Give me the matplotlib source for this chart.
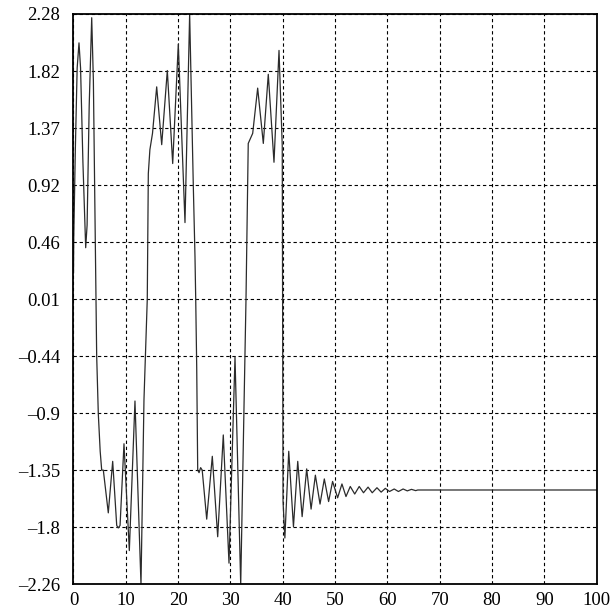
import numpy as np
import matplotlib
matplotlib.use("Agg")
import matplotlib.pyplot as plt

# ==========================================
# DATA
# ==========================================

# time axis samples and signal values, segment by segment
t_start = [0.0, 0.05, 0.35, 0.7, 1.05, 1.35, 1.8, 2.33, 2.6, 3.0, 3.48, 3.8, 4.1, 4.3, 4.43, 4.74, 5.1, 5.39]
y_start = [0.22, 0.5, 1.2, 1.85, 2.05, 1.85, 1.1, 0.42, 0.6, 1.55, 2.25, 1.75, 0.7, 0.01, -0.44, -0.9, -1.2, -1.35]

t_osc1 = [5.7, 6.65, 7.49, 8.26, 8.56, 8.9, 9.65, 10.67, 11.75, 12.9]
y_osc1 = [-1.35, -1.69, -1.28, -1.79, -1.81, -1.79, -1.14, -1.99, -0.80, -2.26]

t_rise1 = [13.47, 14.1, 14.3, 14.6, 15.1]
y_rise1 = [-0.79, 0.01, 1.01, 1.20, 1.33]

t_osc2 = [15.9, 16.86, 17.93, 18.96, 20.03, 21.31, 22.2]
y_osc2 = [1.70, 1.24, 1.83, 1.09, 2.04, 0.62, 2.28]

t_fall2 = [22.9, 23.22, 23.36, 23.55, 23.74, 24.0, 24.3, 24.6]
y_fall2 = [0.91, 0.35, 0.01, -0.53, -1.35, -1.37, -1.33, -1.35]

t_osc3 = [25.46, 26.53, 27.56, 28.63, 29.72, 30.87, 31.96]
y_osc3 = [-1.74, -1.24, -1.88, -1.07, -2.09, -0.45, -2.26]

t_rise3 = [32.97, 33.4, 34.25]
y_rise3 = [0.01, 1.25, 1.33]

t_osc4 = [35.2, 36.28, 37.23, 38.32, 39.28, 39.9, 40.05]
y_osc4 = [1.69, 1.25, 1.80, 1.10, 1.99, 1.23, -1.60]

# decaying ringing after t = 40
t_ring = [40.4, 41.14, 42.04, 42.86, 43.70, 44.57, 45.41, 46.23, 47.12, 47.94,
          48.76, 49.52, 50.48, 51.31, 52.08, 52.90, 53.75, 54.61, 55.43, 56.3,
          57.1, 58.0, 58.8, 59.6, 60.4, 61.3, 62.1, 63.0, 63.8, 64.6, 65.4, 65.8]
y_ring = [-1.89, -1.20, -1.80, -1.28, -1.72, -1.34, -1.66, -1.39, -1.62, -1.42,
          -1.60, -1.44, -1.57, -1.46, -1.56, -1.48, -1.54, -1.48, -1.53, -1.485,
          -1.53, -1.49, -1.525, -1.495, -1.52, -1.50, -1.52, -1.50, -1.515, -1.503, -1.513, -1.508]

t_flat = [100.0]
y_flat = [-1.508]

x_ticks = [0, 10, 20, 30, 40, 50, 60, 70, 80, 90, 100]
y_tick_labels = ["2.28", "1.82", "1.37", "0.92", "0.46", "0.01",
                 "\u20130.44", "\u20130.9", "\u20131.35", "\u20131.8", "\u20132.26"]
y_min, y_max = -2.26, 2.28

# ==========================================
# PLOT
# ==========================================

t = np.concatenate([t_start, t_osc1, t_rise1, t_osc2, t_fall2, t_osc3,
                    t_rise3, t_osc4, t_ring, t_flat])
y = np.concatenate([y_start, y_osc1, y_rise1, y_osc2, y_fall2, y_osc3,
                    y_rise3, y_osc4, y_ring, y_flat])

plt.rcParams['font.family'] = ['Liberation Serif', 'DejaVu Serif']

fig = plt.figure(figsize=(6.13, 6.13), dpi=100)
ax = fig.add_axes([0.1199, 0.0465, 0.8535, 0.9307])

ax.plot(t, y, color='#2b2b2b', linewidth=0.9, solid_joinstyle='round')

ax.set_xlim(0, 100)
ax.set_ylim(y_min, y_max)
ax.set_xticks(x_ticks)
ax.set_xticklabels([str(v) for v in x_ticks])
ax.set_yticks(np.linspace(y_max, y_min, len(y_tick_labels)))
ax.set_yticklabels(y_tick_labels)

ax.tick_params(axis='both', length=0, labelsize=13.5, colors='black')
ax.tick_params(axis='y', pad=9.5)
ax.tick_params(axis='x', pad=5.5)

ax.grid(True, color='black', linestyle=(0, (3, 2.5)), linewidth=0.8)
for s in ax.spines.values():
    s.set_linewidth(1.3)
    s.set_color('black')

fig.savefig("out.png", dpi=100)
plt.close(fig)
